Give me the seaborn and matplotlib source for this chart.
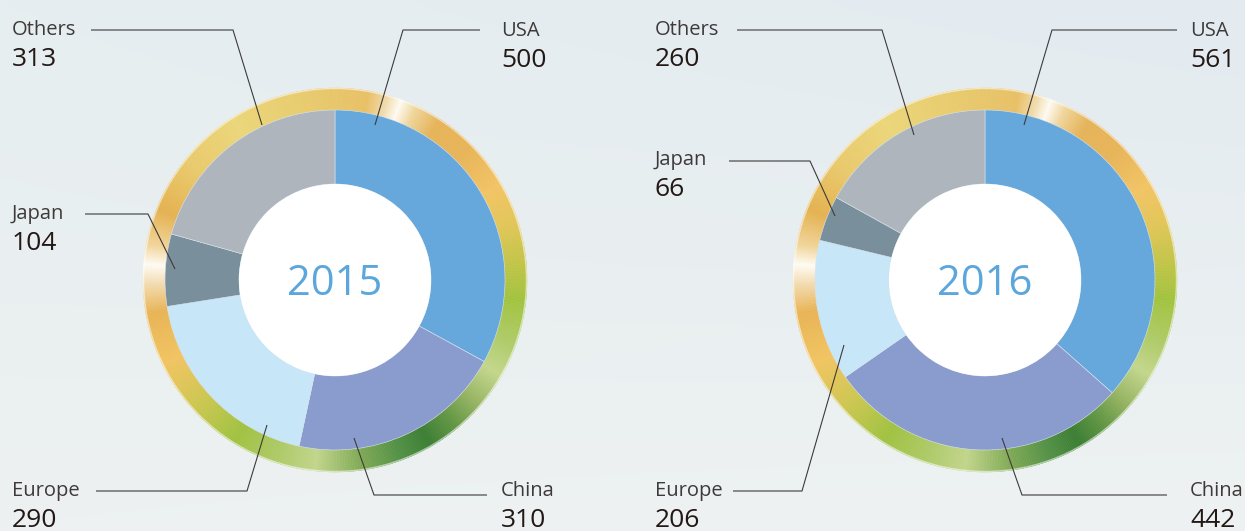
import numpy as np
import matplotlib
matplotlib.use("Agg")
import matplotlib.pyplot as plt
import seaborn as sns
from matplotlib.patches import Wedge, Circle
from matplotlib.colors import LinearSegmentedColormap, to_rgb

# ---------------- data ----------------
regions = ["USA", "China", "Europe", "Japan", "Others"]
years = ["2015", "2016"]
values_2015 = [500, 310, 290, 104, 313]
values_2016 = [561, 442, 206, 66, 260]
slice_colors = ["#66a8dc", "#8a9ccd", "#c7e6f8", "#7a8f9c", "#aeb5bd"]

# ---------------- layout (pixel space, y down) ----------------
W, H = 1245, 531
centers = [(335, 280), (985, 280)]
R_PIE, R_HOLE, R_RING = 170, 96, 192

# text anchor x, label baseline y, polyline of leader
layout_2015 = {
    "USA":    (501, 36,  [(480, 30), (403, 30), (375, 125)]),
    "China":  (501, 496, [(354, 438), (374, 495), (487, 495)]),
    "Europe": (12, 496,  [(96, 491), (247, 491), (267, 425)]),
    "Japan":  (12, 219,  [(85, 214), (148, 214), (175, 269)]),
    "Others": (12, 35,   [(91, 30), (233, 30), (262, 125)]),
}
layout_2016 = {
    "USA":    (1190, 36,  [(1177, 30), (1052, 30), (1024, 125)]),
    "China":  (1190, 496, [(1002, 438), (1022, 495), (1167, 495)]),
    "Europe": (655, 496,  [(733, 491), (802, 491), (844, 345)]),
    "Japan":  (655, 165,  [(729, 161), (810, 161), (835, 216)]),
    "Others": (655, 35,   [(737, 30), (882, 30), (914, 135)]),
}

sns.set_theme(style="white")
plt.rcParams["font.family"] = ["Open Sans", "DejaVu Sans"]

fig = plt.figure(figsize=(W / 100, H / 100), dpi=100)
ax = fig.add_axes([0, 0, 1, 1])


def P(x, y):
    return x, H - y


# background gradient
c_tl, c_tr, c_bl, c_br = [np.array(to_rgb(c)) for c in
                          ("#e6eef0", "#e3ebf0", "#edf1f1", "#eef2f2")]
gy, gx = np.mgrid[0:1:60j, 0:1:140j]
bg = ((1 - gx)[..., None] * (1 - gy)[..., None] * c_tl + gx[..., None] * (1 - gy)[..., None] * c_tr
      + (1 - gx)[..., None] * gy[..., None] * c_bl + gx[..., None] * gy[..., None] * c_br)
ax.imshow(bg, extent=(0, W, 0, H), origin="upper", aspect="auto", zorder=0, interpolation="bicubic")

# ring colour map (angle clockwise from top)
ring_stops = [
    (0, "#e8c66a"), (10, "#e9c066"), (16, "#f2dcae"), (20, "#fffbf2"), (25, "#f0d69c"),
    (33, "#e6b458"), (45, "#e8b458"), (60, "#f3c464"), (72, "#e2c658"), (84, "#c4c548"),
    (96, "#a2c33e"), (110, "#b0cb6a"), (120, "#c4d78c"), (130, "#9cb866"), (140, "#649844"),
    (150, "#3b7e33"), (160, "#549146"), (172, "#80aa55"), (186, "#c2d58b"), (198, "#aeca68"),
    (212, "#a0c241"), (228, "#cdc750"), (244, "#f2c461"), (260, "#e8b455"), (269, "#f3dcb0"),
    (275, "#fffcf4"), (281, "#f2d59a"), (292, "#e4b250"), (308, "#eac96b"), (328, "#ecd679"),
    (345, "#e9ce70"), (360, "#e8c66a"),
]
ring_cmap = LinearSegmentedColormap.from_list(
    "ring", [(a / 360, c) for a, c in ring_stops], N=720)

for (cx, cy), year, vals, lay in zip(centers, years, [values_2015, values_2016],
                                     [layout_2015, layout_2016]):
    dc = P(cx, cy)
    # decorative gradient ring
    n = 720
    step = 360 / n
    for i in range(n):
        a0 = i * step
        col = ring_cmap((a0 + step / 2) / 360)
        ax.add_patch(Wedge(dc, R_RING, 90 - a0 - step - 0.05, 90 - a0, width=R_RING - R_PIE + 2,
                           facecolor=col, edgecolor=col, linewidth=0.3, zorder=2))
    ax.add_patch(Circle(dc, R_RING - 0.5, fill=False, edgecolor="white", alpha=0.55,
                        linewidth=1.0, zorder=3))
    # donut
    ax.pie(vals, colors=slice_colors, startangle=90, counterclock=False, radius=R_PIE,
           center=dc, frame=True,
           wedgeprops=dict(width=R_PIE - R_HOLE, linewidth=0.4, edgecolor="#d8e4ee", zorder=4))
    ax.add_patch(Circle(dc, R_HOLE, facecolor="white", edgecolor="none", zorder=5))
    ax.text(*P(cx, 295), year, ha="center", va="baseline", fontsize=30,
            color="#5ba6dc", zorder=6)
    # labels + leaders
    for reg, v in zip(regions, vals):
        tx, ly, poly = lay[reg]
        xs, ys = zip(*[P(px, py) for px, py in poly])
        ax.plot(xs, ys, color="#3e3a39", linewidth=0.8, zorder=7, solid_capstyle="butt")
        ax.text(*P(tx, ly), reg, ha="left", va="baseline", fontsize=14.5,
                color="#3e3a39", zorder=7)
        ax.text(*P(tx, ly + 31), f"{v}", ha="left", va="baseline", fontsize=19,
                fontweight="medium", color="#231815", zorder=7)

ax.set_xlim(0, W)
ax.set_ylim(0, H)
ax.set_aspect("auto")
ax.axis("off")

fig.savefig("out.png", dpi=100)
